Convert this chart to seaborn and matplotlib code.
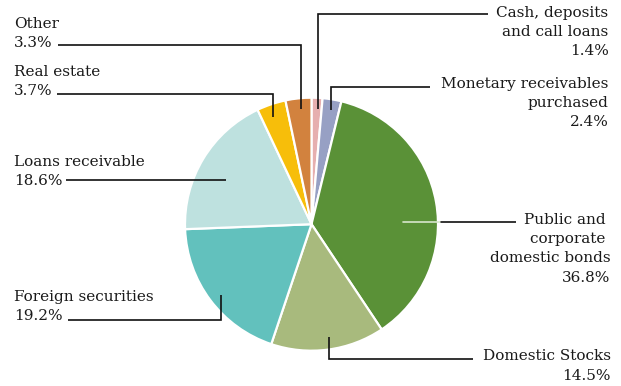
import matplotlib
matplotlib.use("Agg")
import matplotlib.pyplot as plt
import seaborn as sns

# ---- data ----
categories = ["Cash, deposits\nand call loans", "Monetary receivables\npurchased",
              "Public and \ncorporate \ndomestic bonds", "Domestic Stocks",
              "Foreign securities", "Loans receivable", "Real estate", "Other"]
shares = [1.4, 2.4, 36.8, 14.5, 19.2, 18.6, 3.7, 3.3]
pct_labels = ["1.4%", "2.4%", "36.8%", "14.5%", "19.2%", "18.6%", "3.7%", "3.3%"]
colors = ["#E6AFAF", "#97A0C4", "#5A9137", "#A8BA7D", "#62C1BD", "#BEE1DF", "#F7BE0A", "#D2823E"]

sns.set_theme(style="white")
plt.rcParams['font.family'] = ['DejaVu Serif']

W, H = 621, 386
fig = plt.figure(figsize=(W / 100, H / 100), dpi=100)
ax = fig.add_axes([0, 0, 1, 1])

def Y(py):
    return H - py

cx, cy, r = 311.5, 224.2, 126.5
ax.pie(shares, colors=sns.color_palette(colors), startangle=90, counterclock=False,
       center=(cx, Y(cy)), radius=r, frame=True,
       wedgeprops=dict(edgecolor="white", linewidth=1.6))
ax.set_xlim(0, W)
ax.set_ylim(0, H)
ax.set_aspect("equal")
ax.axis("off")

# ---- leader lines (pixel layout) ----
lc = "#111111"
lw = 1.2
leaders = [
    [(317.7, 109), (317.7, 14), (488, 14)],          # cash
    [(331, 110), (331, 87.3), (430, 87.3)],          # monetary
    [(440, 221.7), (516, 221.7)],                    # public (outside part)
    [(329.3, 337), (329.3, 359.3), (473, 359.3)],    # domestic stocks
    [(220.7, 295), (220.7, 320), (68, 320)],         # foreign
    [(226, 180), (66, 180)],                         # loans
    [(273, 117), (273, 94.3), (57, 94.3)],           # real estate
    [(300.5, 109), (300.5, 45), (58, 45)],           # other
]
for pts in leaders:
    ax.plot([p[0] for p in pts], [Y(p[1]) for p in pts], color=lc, lw=lw,
            solid_capstyle="butt", solid_joinstyle="miter")
# lighter part of public leader inside wedge
ax.plot([403, 440], [Y(221.7), Y(221.7)], color="#D8E6CC", lw=lw)

# ---- labels ----
fs = 11
tc = "#1a1a1a"
ls = 1.47
# (x, cap-top pixel, ha)
label_pos = [
    (608.5, 9, "right"),
    (608.5, 80, "right"),
    (610.7, 216, "right"),
    (610.7, 352.5, "right"),
    (14, 293, "left"),
    (14, 158, "left"),
    (14, 68, "left"),
    (14, 20, "left"),
]
for cat, pct, (x, yt, ha) in zip(categories, pct_labels, label_pos):
    ax.text(x, Y(yt - 3), cat + "\n" + pct, ha=ha, va="top", fontsize=fs, color=tc,
            linespacing=ls, multialignment=ha)

fig.savefig("out.png", dpi=100)
